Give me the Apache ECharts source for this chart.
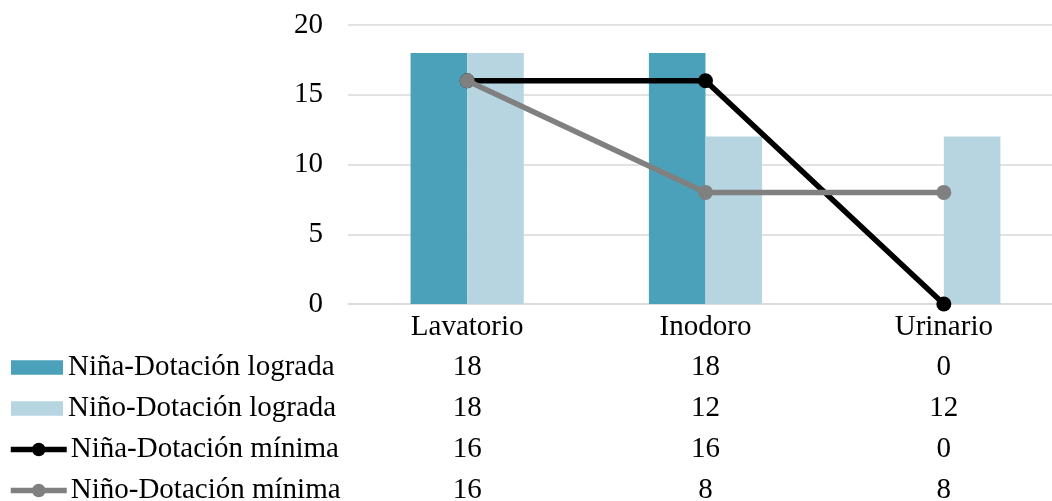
<!DOCTYPE html>
<html>
<head>
<meta charset="utf-8">
<script src="https://cdn.jsdelivr.net/npm/echarts@6/dist/echarts.min.js"></script>
<style>html,body{margin:0;padding:0;background:#fff;overflow:hidden;width:1052px;height:501px;}#c{width:1080px;height:501px;}</style>
</head>
<body>
<div id="c"></div>
<script>
const categories = ['Lavatorio', 'Inodoro', 'Urinario'];
const ninaLograda = [18, 18, 0];
const ninoLograda = [18, 12, 12];
const ninaMinima = [16, 16, 0];
const ninoMinima = [16, 8, 8];
const seriesNames = ['Niña-Dotación lograda', 'Niño-Dotación lograda', 'Niña-Dotación mínima', 'Niño-Dotación mínima'];
const tableRows = [ninaLograda, ninoLograda, ninaMinima, ninoMinima];

const FONT = '"Liberation Serif", "Times New Roman", serif';
const FS = 29;
const rowY = [366, 407, 448, 489];

const chart = echarts.init(document.getElementById('c'), null, {renderer: 'canvas'});

const legends = seriesNames.map((n, i) => {
  const isBar = i < 2;
  const h = isBar ? 14.5 : 17;
  return {
    data: [isBar ? {name: n, icon: 'rect'} : n],
    orient: 'vertical',
    left: isBar ? 11 : 8,
    top: rowY[i] - 13,
    itemWidth: isBar ? 52 : 56,
    itemHeight: h,
    itemGap: 0,
    padding: 0,
    selectedMode: false,
    lineStyle: {width: 5.5},
    textStyle: {fontFamily: FONT, fontSize: FS, color: '#000', padding: [0, 0, 0, isBar ? 0 : -1]}
  };
});

chart.setOption({
  animation: false,
  backgroundColor: '#fff',
  grid: {left: 348, right: 17, top: 25, bottom: 197, containLabel: false},
  legend: legends,
  xAxis: {
    type: 'category',
    data: categories,
    boundaryGap: true,
    axisLine: {lineStyle: {color: '#d9d9d9', width: 1.5}},
    axisTick: {show: false},
    axisLabel: {fontFamily: FONT, fontSize: FS, color: '#000', margin: 9}
  },
  yAxis: {
    type: 'value',
    min: 0, max: 20, interval: 5,
    axisLine: {show: false},
    axisTick: {show: false},
    axisLabel: {fontFamily: FONT, fontSize: FS, color: '#000', margin: 25},
    splitLine: {lineStyle: {color: '#d9d9d9', width: 1.5}}
  },
  series: [
    {name: seriesNames[0], type: 'bar', data: ninaLograda, barWidth: 56.6, barGap: '0%', itemStyle: {color: '#4aa1b9'}},
    {name: seriesNames[1], type: 'bar', data: ninoLograda, barWidth: 56.6, barGap: '0%', itemStyle: {color: '#b7d5e0'}},
    {name: seriesNames[2], type: 'line', data: ninaMinima, symbol: 'circle', symbolSize: 15,
     lineStyle: {color: '#000', width: 5.5}, itemStyle: {color: '#000'}, z: 3},
    {name: seriesNames[3], type: 'line', data: ninoMinima, symbol: 'circle', symbolSize: 15,
     lineStyle: {color: '#808080', width: 5.5}, itemStyle: {color: '#808080'}, z: 4}
  ]
});

const texts = [];
tableRows.forEach((row, r) => {
  row.forEach((v, c) => {
    const x = chart.convertToPixel({xAxisIndex: 0}, categories[c]);
    texts.push({
      type: 'text',
      x: x, y: rowY[r] + 1,
      style: {text: String(v), fontFamily: FONT, fontSize: FS, fill: '#000', textAlign: 'center', textVerticalAlign: 'middle'}
    });
  });
});
chart.setOption({graphic: texts});
</script>
</body>
</html>
